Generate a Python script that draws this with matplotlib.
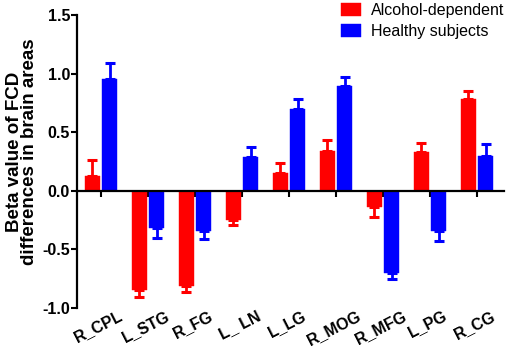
import matplotlib
matplotlib.use("Agg")
import matplotlib.pyplot as plt
import numpy as np

categories = ["R_CPL", "L_STG", "R_FG", "L_ LN", "L_LG", "R_MOG", "R_MFG", "L_PG", "R_CG"]
alcohol = [0.13, -0.845, -0.81, -0.245, 0.155, 0.34, -0.14, 0.33, 0.785]
alcohol_err = [0.13, 0.065, 0.05, 0.05, 0.085, 0.095, 0.085, 0.08, 0.065]
healthy = [0.95, -0.32, -0.34, 0.285, 0.70, 0.895, -0.70, -0.34, 0.30]
healthy_err = [0.14, 0.08, 0.07, 0.085, 0.08, 0.075, 0.055, 0.09, 0.10]
series_names = ["Alcohol-dependent", "Healthy subjects"]
yticks = [-1.0, -0.5, 0.0, 0.5, 1.0, 1.5]

plt.rcParams['font.family'] = ['Liberation Sans', 'DejaVu Sans']

fig = plt.figure(figsize=(5.1, 3.49), dpi=100)
ax = fig.add_axes([77/510, 41/349, 427/510, 293/349])

x = np.arange(len(categories))
w = 0.32
off = 0.185

def one_sided(vals, errs):
    vals = np.asarray(vals); errs = np.asarray(errs)
    lower = np.where(vals < 0, errs, 0)
    upper = np.where(vals >= 0, errs, 0)
    return [lower, upper]

for vals, errs, col, dx, name in [(alcohol, alcohol_err, '#ff0000', -off, series_names[0]),
                                  (healthy, healthy_err, '#0000ff', off, series_names[1])]:
    ax.bar(x + dx, vals, width=w, color=col, edgecolor=col, linewidth=0.3, label=name, zorder=2)
    ax.errorbar(x + dx, vals, yerr=one_sided(vals, errs), fmt='none', ecolor=col,
                elinewidth=2.0, capsize=3.3, capthick=2.2, zorder=1)

ax.set_xlim(-0.51, 8.57)
ax.set_ylim(-1.0, 1.5)
ax.set_yticks(yticks)
ax.set_yticklabels([f"{v:.1f}" for v in yticks], fontsize=11.5, fontweight='bold')
ax.spines['top'].set_visible(False)
ax.spines['right'].set_visible(False)
ax.spines['left'].set_linewidth(1.6)
ax.spines['bottom'].set_linewidth(1.6)
ax.spines['bottom'].set_position(('data', 0))
ax.set_xticks(x)
ax.set_xticklabels([])
ax.tick_params(axis='y', direction='out', length=4, width=1.5, pad=1)
ax.tick_params(axis='x', direction='out', length=4, width=1.5)

for xi, lab in zip(x, categories):
    ax.text(xi - 0.05, -1.0, lab, rotation=27, ha='center', va='top', fontsize=11.5,
            fontweight='bold', clip_on=False)

fig.text(22/510, 1 - 152/349, "Beta value of FCD\ndifferences in brain areas", rotation=90,
         ha='center', va='center', fontsize=13.5, fontweight='bold', linespacing=0.9,
         multialignment='center')

leg = ax.legend(loc='upper left', bbox_to_anchor=(341/510, 1 - 3/349), bbox_transform=fig.transFigure,
                frameon=False, fontsize=11.5, handlelength=1.25, handleheight=0.85,
                handletextpad=0.6, labelspacing=0.4, borderpad=0, borderaxespad=0)

fig.savefig("out.png", dpi=100)
